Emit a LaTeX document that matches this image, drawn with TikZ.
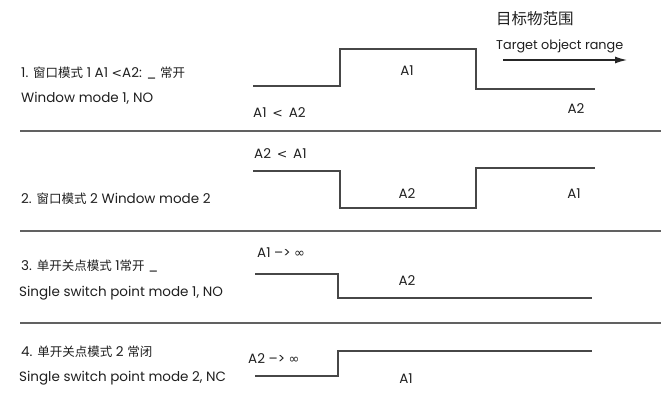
\documentclass[tikz,border=0pt]{standalone}
\usepackage{fontspec}
\setmainfont{Poppins}
\newfontfamily\cjk{Noto Sans CJK SC}
\newfontfamily\symb{DejaVu Sans}
\usetikzlibrary{arrows.meta,positioning}
\newcommand{\zh}[1]{{\fontsize{12.5}{15}\cjk #1}}
\newcommand{\infsign}{{\fontsize{13}{15}\symb ∞}}
\newcommand{\lesssign}{{\fontsize{12.5}{15}\symb <}}

\begin{document}
\begin{tikzpicture}[
  x=1pt, y=-1pt,
  wave/.style={line width=1.2pt, black!72},
  rule/.style={line width=1.5pt, black!62},
  dir/.style={-{Latex[length=12pt,width=7pt]}, line width=1.2pt, black!85},
  lbl/.style={anchor=base west, inner sep=0pt},
  sig/.style={anchor=base, inner sep=0pt},
  every node/.style={font=\fontsize{13.5}{16}\selectfont, text=black!88}]

\useasboundingbox (0,0) rectangle (666,394);

% ---- the direction of the target range, top right ----------------------
\node[lbl, font=\fontsize{15.5}{18}\selectfont] (rangezh) at (496,24) {\cjk 目标物范围};
\node[lbl, font=\fontsize{12.8}{15}\selectfont] (rangeen) at (496,49) {Target object range};
\coordinate (rangefrom) at (503,60);
\coordinate (rangeto)   at (627,60);
\draw[dir] (rangefrom) -- (rangeto);

% ======================= 1: window mode 1 ===============================
\node[lbl] (mode1zh) at (21,77) {1. \zh{窗口模式} 1 A1 \lesssign A2: \_ \zh{常开}};
\node[lbl] (mode1en) at (21,102) {Window mode 1, NO};
\draw[wave] (253,86) -- (340,86) -- (340,49) -- (476,49) -- (476,89) -- (595,89);
\node[lbl] (cond1) at (253,117) {A1 \,\lesssign\ \,A2};
\node[sig] (hi1) at (407,75) {A1};
\node[sig] (lo1) at (576,113) {A2};

\draw[rule] (20,131) -- (661,131);

% ======================= 2: window mode 2 ===============================
\node[lbl] (mode2) at (21,203) {2. \zh{窗口模式} 2 Window mode 2};
\draw[wave] (253,171) -- (340,171) -- (340,208) -- (476,208) -- (476,168) -- (595,168);
\node[lbl] (cond2) at (254,158) {A2 \,\lesssign\ \,A1};
\node[sig] (lo2) at (407,198) {A2};
\node[sig] (hi2) at (574,198) {A1};

\draw[rule] (20,231) -- (661,231);

% ======================= 3: single switch point, NO =====================
\node[lbl] (mode3zh) at (21,270) {3. \zh{单开关点模式} 1\zh{常开} \_};
\node[lbl] (mode3en) at (19,296) {Single switch point mode 1, NO};
\draw[wave] (255,274) -- (338,274) -- (338,298) -- (592,298);
\node[lbl] (cond3) at (257,257) {A1 –>\ \infsign};
\node[sig] (lo3) at (407,285) {A2};

\draw[rule] (20,323) -- (661,323);

% ======================= 4: single switch point, NC =====================
\node[lbl] (mode4zh) at (21,356) {4. \zh{单开关点模式} 2 \zh{常闭}};
\node[lbl] (mode4en) at (19,381) {Single switch point mode 2, NC};
\draw[wave] (255,376) -- (338,376) -- (338,351) -- (592,351);
\node[lbl] (cond4) at (248,363) {A2 –>\ \infsign};
\node[sig] (hi4) at (406,383) {A1};

\end{tikzpicture}
\end{document}
